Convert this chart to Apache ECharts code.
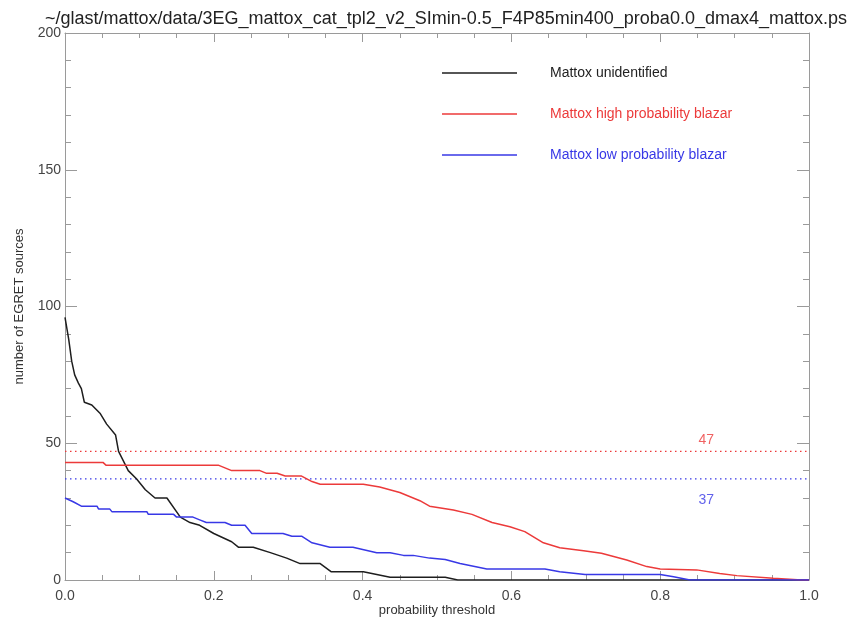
<!DOCTYPE html>
<html>
<head>
<meta charset="utf-8">
<script src="https://cdn.jsdelivr.net/npm/echarts@6/dist/echarts.min.js"></script>
<style>html,body{margin:0;padding:0;background:#fff}#c{width:853px;height:618px}</style>
</head>
<body>
<div id="c"></div>
<script>
var titleText = '~/glast/mattox/data/3EG_mattox_cat_tpl2_v2_SImin-0.5_F4P85min400_proba0.0_dmax4_mattox.ps';
var seriesNames = ['Mattox unidentified', 'Mattox high probability blazar', 'Mattox low probability blazar'];
var xTicks = [0, 0.2, 0.4, 0.6, 0.8, 1.0];
var yTicks = [0, 50, 100, 150, 200];

var unidentified = [
  [0.000,96],[0.005,88],[0.009,80],[0.013,75],[0.018,72],[0.022,70],[0.026,65],[0.036,64],
  [0.047,61],[0.056,57],[0.068,53],[0.072,47],[0.085,40],[0.096,37],[0.108,33],[0.121,30],
  [0.137,30],[0.155,23],[0.168,21],[0.181,20],[0.200,17],[0.224,14],[0.233,12],[0.253,12],
  [0.276,10],[0.298,8],[0.316,6],[0.343,6],[0.358,3],[0.401,3],[0.437,1],[0.511,1],[0.528,0],[1.0,0]
];
var highProb = [
  [0.000,43],[0.051,43],[0.055,42],[0.206,42],[0.224,40],[0.262,40],[0.271,39],[0.285,39],
  [0.296,38],[0.318,38],[0.332,36],[0.343,35],[0.401,35],[0.423,34],[0.450,32],[0.477,29],
  [0.490,27],[0.522,25.6],[0.547,24],[0.574,21],[0.598,19.5],[0.618,17.7],[0.643,13.6],
  [0.665,11.8],[0.697,10.7],[0.721,9.8],[0.755,7.3],[0.782,4.9],[0.800,4],[0.849,3.7],
  [0.880,2.4],[0.903,1.6],[0.952,0.6],[0.990,0],[1.0,0]
];
var lowProb = [
  [0.000,30],[0.011,28.6],[0.022,27],[0.043,27],[0.045,26],[0.060,26],[0.063,25],[0.110,25],
  [0.112,24],[0.146,24],[0.150,23],[0.172,23],[0.181,22],[0.190,21],[0.215,21],[0.224,20],
  [0.242,20],[0.251,17],[0.293,17],[0.305,16],[0.318,16],[0.332,13.6],[0.356,12],[0.387,12],
  [0.419,10],[0.437,10],[0.455,9],[0.468,9],[0.490,8],[0.511,7.5],[0.531,6],[0.549,5],
  [0.567,4],[0.645,4],[0.665,3],[0.699,2],[0.786,2],[0.800,2],[0.818,1.2],[0.840,0],[1.0,0]
];
var refHigh = 47;
var refLow = 37;
var refLabels = [[0.862, 51.3, '47'], [0.862, 29.3, '37']];

var black = '#1e1e1e', red = '#ec3a3a', blue = '#3838e6';
var axisGray = '#9a9a9a';
var font = 'Liberation Sans, Arial, Helvetica, sans-serif';

var chart = echarts.init(document.getElementById('c'), null, {renderer: 'canvas'});
var xAxisBase = {
  type: 'value', min: 0, max: 1, interval: 0.2, splitNumber: 5,
  axisLine: {show: true, onZero: false, lineStyle: {color: axisGray, width: 1}},
  axisTick: {show: true, inside: true, length: 9, lineStyle: {color: axisGray}},
  minorTick: {show: true, splitNumber: 4, length: 5, lineStyle: {color: axisGray}},
  splitLine: {show: false}
};
var yAxisBase = {
  type: 'value', min: 0, max: 200, interval: 50,
  axisLine: {show: true, onZero: false, lineStyle: {color: axisGray, width: 1}},
  axisTick: {show: true, inside: true, length: 12, lineStyle: {color: axisGray}},
  minorTick: {show: true, splitNumber: 5, length: 6, lineStyle: {color: axisGray}},
  splitLine: {show: false}
};
chart.setOption({
  animation: false,
  backgroundColor: '#fff',
  title: {
    text: titleText, left: 40, top: 5,
    textStyle: {fontFamily: font, fontSize: 18, fontWeight: 'normal', color: '#222'}
  },
  grid: {left: 65, right: 44, top: 33, bottom: 38, outerBoundsMode: 'none', containLabel: false},
  legend: {
    orient: 'vertical', left: 437, top: 61, itemGap: 27, itemWidth: 75, itemHeight: 1.5,
    icon: 'rect',
    textStyle: {fontFamily: font, fontSize: 14, padding: [0, 0, 0, 28]},
    data: [
      {name: seriesNames[0], textStyle: {color: '#222'}},
      {name: seriesNames[1], textStyle: {color: red}},
      {name: seriesNames[2], textStyle: {color: blue}}
    ]
  },
  xAxis: [
    Object.assign({}, xAxisBase, {
      position: 'bottom',
      name: 'probability threshold', nameLocation: 'middle', nameGap: 24, nameMoveOverlap: false,
      nameTextStyle: {fontFamily: font, fontSize: 13, color: '#333'},
      axisLabel: {margin: 9, fontFamily: font, fontSize: 14, color: '#444',
        formatter: function (v) { return xTicks.indexOf(Math.round(v*10)/10) >= 0 ? v.toFixed(1) : ''; }}
    }),
    Object.assign({}, xAxisBase, {position: 'top', axisLabel: {show: false}})
  ],
  yAxis: [
    Object.assign({}, yAxisBase, {
      position: 'left',
      name: 'number of EGRET sources', nameLocation: 'middle', nameGap: 39, nameMoveOverlap: false,
      nameTextStyle: {fontFamily: font, fontSize: 13, color: '#333'},
      axisLabel: {margin: 4, fontFamily: font, fontSize: 14, color: '#444',
        formatter: function (v) { return yTicks.indexOf(v) >= 0 ? String(v) : ''; }}
    }),
    Object.assign({}, yAxisBase, {position: 'right', axisLabel: {show: false}})
  ],
  series: [
    {name: seriesNames[0], type: 'line', data: unidentified, symbol: 'none', color: black,
      lineStyle: {color: black, width: 1.5}, z: 3},
    {name: seriesNames[1], type: 'line', data: highProb, symbol: 'none', color: red,
      lineStyle: {color: red, width: 1.5}, z: 4},
    {name: seriesNames[2], type: 'line', data: lowProb, symbol: 'none', color: blue,
      lineStyle: {color: blue, width: 1.5}, z: 4},
    {name: 'refHigh', type: 'line', data: [[0, refHigh], [1, refHigh]], symbol: 'none',
      lineStyle: {color: red, width: 1.3, type: [1.5, 3.5]}, silent: true, z: 2},
    {name: 'refLow', type: 'line', data: [[0, refLow], [1, refLow]], symbol: 'none',
      lineStyle: {color: blue, width: 1.3, type: [1.5, 3.5]}, silent: true, z: 2},
    {name: 'refLabels', type: 'scatter', symbolSize: 0, silent: true,
      data: refLabels.map(function (d, i) {
        return {value: [d[0], d[1]], label: {show: true, position: 'inside', formatter: d[2],
          color: i === 0 ? red : blue, fontFamily: font, fontSize: 14}};
      })}
  ]
});
</script>
</body>
</html>
